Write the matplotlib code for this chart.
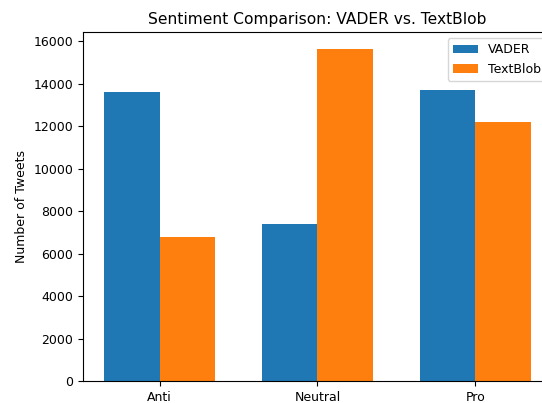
import matplotlib
matplotlib.use("Agg")
import matplotlib.pyplot as plt
import numpy as np

categories = ["Anti", "Neutral", "Pro"]
vader = [13600, 7400, 13700]
textblob = [6800, 15650, 12200]

fig = plt.figure(figsize=(5.42, 4.03), dpi=100)
ax = fig.add_axes([83/542, 1-381/403, (542-83)/542, (381-32)/403])
ax.patch.set_visible(False)

x = np.arange(len(categories))
w = 0.35
ax.bar(x - w/2, vader, w, label="VADER", color="#1f77b4")
ax.bar(x + w/2, textblob, w, label="TextBlob", color="#ff7f0e")
ax.set_xlim(-0.485, 2.422)
ax.set_xticks(x)
ax.set_xticklabels(categories)
ax.tick_params(labelsize=9)
ax.set_ylabel("Number of Tweets", fontsize=9)
ax.set_title("Sentiment Comparison: VADER vs. TextBlob", fontsize=11.2)
ax.title.set_position((0.5107, 1.0))
ax.spines["right"].set_visible(False)
leg = ax.legend(fontsize=9, loc="upper right", bbox_to_anchor=(1.0218, 1.0))

fig.savefig("out.png", dpi=100)
